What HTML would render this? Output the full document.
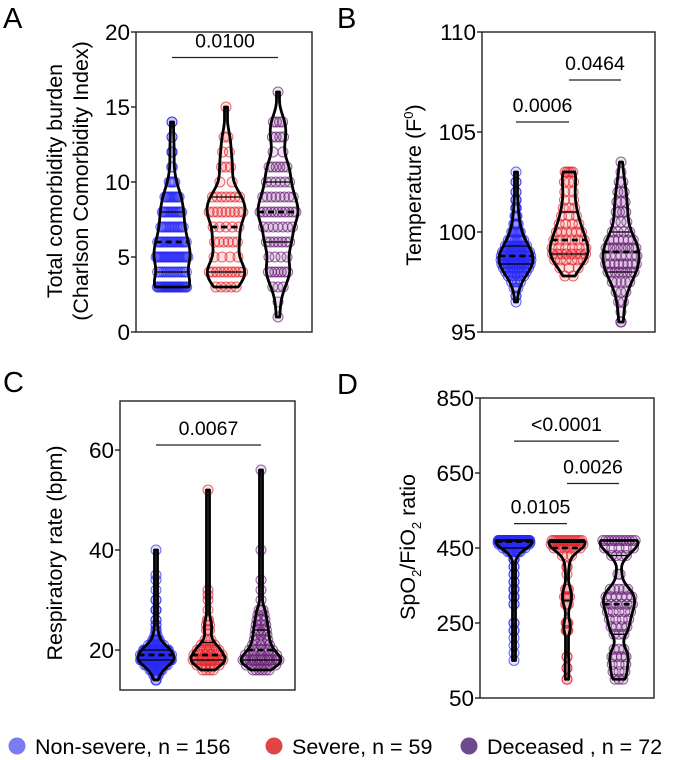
<!DOCTYPE html>
<html><head><meta charset="utf-8">
<style>
body{margin:0;background:#fff;}
svg{display:block;font-family:"Liberation Sans",Arial,sans-serif;}
</style></head>
<body>
<svg id="chart" width="675" height="760" viewBox="0 0 675 760"></svg>
<script>
// ---- data ----
const groupNames = ["Non-severe","Severe","Deceased"];
const groupCounts = [156,59,72];
// Panel A: comorbidity (value, count)
const aBlueVals=[3,4,5,6,7,8,9,10,11,12,13,14];
const aBlueCnt =[30,15,25,20,15,15,12,5,2,3,2,2];
const aRedVals=[3,4,5,6,7,8,9,10,11,12,13,15];
const aRedCnt =[5,10,4,6,5,9,7,2,3,2,2,1];
const aPurVals=[1,2,3,4,5,6,7,8,9,10,11,12,13,14,16];
const aPurCnt =[1,1,3,7,4,7,7,11,8,6,6,2,4,4,1];
// Panel B: temperature
const bBlueVals=[96.5,96.8,97.2,97.5,97.8,98,98.2,98.4,98.6,98.8,99,99.3,99.6,100,100.4,100.8,101.2,101.6,102,102.5,103];
const bBlueCnt =[1,2,3,4,6,10,12,16,18,18,16,12,10,8,5,4,3,3,2,2,1];
const bRedVals=[97.8,98.2,98.6,98.9,99.2,99.6,100,100.4,100.8,101.2,101.6,102,102.5,103];
const bRedCnt =[2,3,6,8,6,6,6,4,3,3,2,2,3,5];
const bPurVals=[95.5,96,96.5,97,97.5,98,98.4,98.8,99.2,99.6,100,100.5,101,101.5,102,102.5,103,103.5];
const bPurCnt =[2,1,2,3,5,8,8,7,9,6,4,3,4,3,3,2,1,1];
// Panel C: respiratory rate
const cBlueVals=[14,15,16,17,18,19,20,21,22,23,24,25,26,28,30,32,34,35,40];
const cBlueCnt =[3,5,10,15,39,20,30,8,7,3,3,2,2,3,2,1,1,1,1];
const cRedVals=[16,17,18,19,20,21,22,24,25,26,28,30,31,32,52];
const cRedCnt =[4,6,15,6,10,3,3,3,2,2,1,1,1,1,1];
const cPurVals=[16,17,18,19,20,21,22,23,24,25,26,27,28,30,32,34,40,56];
const cPurCnt =[6,6,16,5,8,3,5,3,4,3,3,2,3,1,1,1,1,1];
// Panel D: SpO2/FiO2
const dBlueVals=[470,465,460,450,440,420,400,380,360,340,320,300,250,230,210,190,170,150];
const dBlueCnt =[78,20,15,10,8,3,2,2,2,3,3,2,2,2,1,1,1,1];
const dRedVals=[470,460,450,430,400,380,340,320,300,250,230,160,130,100];
const dRedCnt =[15,10,6,3,2,1,3,4,3,3,3,2,2,2];
const dPurVals=[470,450,430,380,340,320,300,280,260,240,220,180,160,140,120,100];
const dPurCnt =[12,5,4,2,5,6,6,5,4,4,3,3,4,3,3,3];
// ticks & significance
const aTicks=[0,5,10,15,20], bTicks=[95,100,105,110], cTicks=[20,40,60], dTicks=[50,250,450,650,850];
const aSig=[[0,2,18.3,"0.0100"]];
const bSig=[[0,1,105.5,"0.0006"],[1,2,107.6,"0.0464"]];
const cSig=[[0,2,61,"0.0067"]];
const dSig=[[0,2,735,"<0.0001"],[1,2,622,"0.0026"],[0,1,515,"0.0105"]];

const colors=["#2b2bf5","#e5252b","#6b1f78"];
const legendColors=["#7b7bf2","#e04444","#6c4a8c"];
const NS="http://www.w3.org/2000/svg";
const svg=document.getElementById("chart");
function el(tag,attrs,parent){const e=document.createElementNS(NS,tag);for(const k in attrs)e.setAttribute(k,attrs[k]);(parent||svg).appendChild(e);return e;}

function expand(v,c){const a=[];v.forEach((x,i)=>{for(let j=0;j<c[i];j++)a.push(x);});return a.sort((p,q)=>p-q);}
function quant(a,q){const p=(a.length-1)*q,i=Math.floor(p),f=p-i;return a[i]+(a[Math.min(i+1,a.length-1)]-a[i])*f;}

function panel(cfg){
  const g=el("g",{});
  
  
  const y=v=>cfg.bottom-(v-cfg.min)/(cfg.max-cfg.min)*(cfg.bottom-cfg.top);
  const xs=cfg.xs;
  const letter=el("text",{x:cfg.lx,y:cfg.ly,"font-size":29},g);letter.textContent=cfg.letter;
  
  
  const frame=el("rect",{x:cfg.left,y:cfg.top,width:cfg.right-cfg.left,height:cfg.bottom-cfg.top,fill:"none",stroke:"#222","stroke-width":1.4},g);
  
  
  cfg.ticks.forEach(t=>{
    el("line",{x1:cfg.left-5,x2:cfg.left,y1:y(t),y2:y(t),stroke:"#222","stroke-width":1.4},g);
    const tx=el("text",{x:cfg.left-6,y:y(t)+8,"font-size":22.5,"text-anchor":"end"},g);tx.textContent=t;
    
    
  });
  cfg.titles.forEach((tt,i)=>{
    const t=el("text",{x:0,y:0,"font-size":21.5,"text-anchor":"middle",transform:`translate(${tt[0]},${tt[1]}) rotate(-90)`},g);
    t.innerHTML=tt[2];
    
    
  });
  cfg.groups.forEach((gr,gi)=>{
    const data=expand(gr[0],gr[1]);
    const lo=data[0],hi=data[data.length-1],bw=cfg.bw;
    const dens=v=>{let s=0;for(const d of data){const z=(v-d)/bw;s+=Math.exp(-0.5*z*z);}return s;};
    const N=120,pts=[];let mx=0;
    for(let i=0;i<=N;i++){const v=lo+(hi-lo)*i/N;const d=dens(v);pts.push([v,d]);if(d>mx)mx=d;}
    const hw=v=>Math.max(1.5,dens(v)/mx*cfg.W[gi]);
    const cx=xs[gi];
    let dPath="M"+pts.map(p=>`${cx+Math.max(1.5,p[1]/mx*cfg.W[gi])},${y(p[0])}`).join("L");
    dPath+="L"+pts.slice().reverse().map(p=>`${cx-Math.max(1.5,p[1]/mx*cfg.W[gi])},${y(p[0])}`).join("L")+"Z";
    const vg=el("g",{},g);
    
    
    el("path",{d:dPath,fill:"#fff"},vg);
    gr[0].forEach((v,i)=>{
      const c=gr[1][i],w=Math.max(0,hw(v)-2);
      for(let j=0;j<c;j++){
        const off=c===1?0:(-w+2*w*j/(c-1));
        const ci=el("circle",{cx:cx+off,cy:y(v),r:5,fill:colors[gi],"fill-opacity":0.12,stroke:colors[gi],"stroke-opacity":0.7,"stroke-width":1},vg);
        
        
      }
    });
    el("path",{d:dPath,fill:"none",stroke:"#000","stroke-width":2.8,"stroke-linejoin":"round"},vg);
    [0.25,0.5,0.75].forEach(q=>{
      const v=quant(data,q),w=hw(v);
      el("line",{x1:cx-w,x2:cx+w,y1:y(v),y2:y(v),stroke:"#000","stroke-width":q===0.5?2.8:1.3,"stroke-dasharray":q===0.5?"6,4":"none"},vg);
    });
  });
  cfg.sig.forEach(s=>{
    el("line",{x1:xs[s[0]],x2:xs[s[1]],y1:y(s[2]),y2:y(s[2]),stroke:"#222","stroke-width":1.3},g);
    const t=el("text",{x:(xs[s[0]]+xs[s[1]])/2,y:y(s[2])-10,"font-size":19.5,"text-anchor":"middle"},g);t.textContent=s[3];
    
    
  });
}

panel({letter:"A",lx:3,ly:28,left:136,right:312,top:32,bottom:332,min:0,max:20,ticks:aTicks,xs:[172,226,278],bw:0.7,W:[18,19,20],
  titles:[[62,181,"Total comorbidity burden"],[88,181,"(Charlson Comorbidity Index)"]],
  groups:[[aBlueVals,aBlueCnt],[aRedVals,aRedCnt],[aPurVals,aPurCnt]],sig:aSig});
panel({letter:"B",lx:337,ly:28,left:482,right:655,top:32,bottom:332,min:95,max:110,ticks:bTicks,xs:[516,569,621],bw:0.55,W:[17,19,18],
  titles:[[421,185,'Temperature (F<tspan dy="-8" font-size="13">0</tspan><tspan dy="8">)</tspan>']],
  groups:[[bBlueVals,bBlueCnt],[bRedVals,bRedCnt],[bPurVals,bPurCnt]],sig:bSig});
panel({letter:"C",lx:3,ly:392,left:120,right:295,top:401,bottom:690,min:12,max:69.8,ticks:cTicks,xs:[156,208,261],bw:1.1,W:[18,17,20],
  titles:[[62,553,"Respiratory rate (bpm)"]],
  groups:[[cBlueVals,cBlueCnt],[cRedVals,cRedCnt],[cPurVals,cPurCnt]],sig:cSig});
panel({letter:"D",lx:337,ly:394,left:480,right:654,top:398,bottom:698,min:50,max:850,ticks:dTicks,xs:[514,567,619],bw:18,W:[18,18,19],
  titles:[[415,547,'SpO<tspan dy="6" font-size="13">2</tspan><tspan dy="-6">/FiO</tspan><tspan dy="6" font-size="13">2</tspan><tspan dy="-6"> ratio</tspan>']],
  groups:[[dBlueVals,dBlueCnt],[dRedVals,dRedCnt],[dPurVals,dPurCnt]],sig:dSig});

// legend
const legX=[17,274,469];
groupNames.forEach((n,i)=>{
  const lg=el("g",{});
  
  
  el("circle",{cx:legX[i],cy:746,r:8.5,fill:legendColors[i]},lg);
  const t=el("text",{x:legX[i]+18,y:754,"font-size":21.5},lg);
  t.textContent=(i===2?n+" , n = ":n+", n = ")+groupCounts[i];
});
</script>
</body></html>
